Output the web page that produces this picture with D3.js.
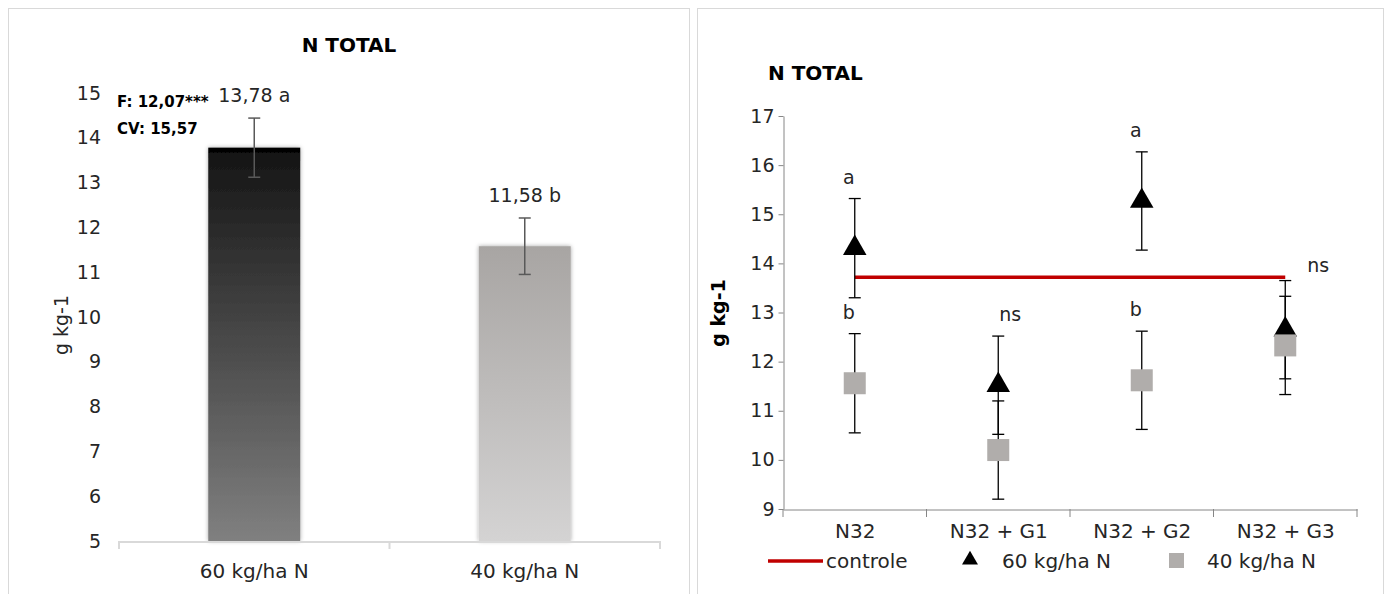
<!DOCTYPE html>
<html>
<head>
<meta charset="utf-8">
<script src="https://cdn.jsdelivr.net/npm/d3@7"></script>
<style>
  body { margin: 0; background: #fff; }
  svg { display: block; font-family: "DejaVu Sans", sans-serif; }
</style>
</head>
<body>
<script>
// ---- data: left panel (bars)
var barCategories = ["60 kg/ha N", "40 kg/ha N"];
var barValues = [13.78, 11.58];
var barErrors = [0.66, 0.63];
var barLetters = ["a", "b"];
var barTicks = [5, 6, 7, 8, 9, 10, 11, 12, 13, 14, 15];
var statLines = ["F: 12,07***", "CV: 15,57"];

// ---- data: right panel (points)
var treatments = ["N32", "N32 + G1", "N32 + G2", "N32 + G3"];
var controle = [13.72, 13.72, 13.72, 13.72];
var values60 = [14.31, 11.52, 15.27, 12.65];
var errors60 = [1.01, 1.0, 1.0, 1.0];
var letters60 = ["a", "ns", "a", "ns"];
var values40 = [11.56, 10.2, 11.62, 12.33];
var errors40 = [1.01, 1.0, 1.0, 1.0];
var letters40 = ["b", "", "b", ""];
var pointTicks = [9, 10, 11, 12, 13, 14, 15, 16, 17];
var legendLabels = ["controle", "60 kg/ha N", "40 kg/ha N"];

var W = 1386, H = 594;
var svg = d3.select("body").append("svg").attr("width", W).attr("height", H);

var defs = svg.append("defs");
function grad(id, stops) {
  var g = defs.append("linearGradient").attr("id", id)
    .attr("x1", 0).attr("y1", 0).attr("x2", 0).attr("y2", 1);
  stops.forEach(function(s) {
    g.append("stop").attr("offset", s[0]).attr("stop-color", s[1]);
  });
}
grad("g60", [[0, "#000"], [0.012, "#000"], [0.013, "#151515"], [1, "#808080"]]);
grad("g40", [[0, "#a8a5a3"], [1, "#d4d3d3"]]);
defs.append("filter").attr("id", "shadow")
  .attr("x", "-20%").attr("y", "-10%").attr("width", "140%").attr("height", "120%")
  .append("feDropShadow").attr("dx", 0).attr("dy", 0)
  .attr("stdDeviation", 2.2).attr("flood-color", "#000").attr("flood-opacity", 0.35);

// panel frames
svg.append("rect").attr("x", 8.5).attr("y", 8.5).attr("width", 681).attr("height", 600)
  .attr("fill", "none").attr("stroke", "#d9d9d9");
svg.append("rect").attr("x", 697.5).attr("y", 8.5).attr("width", 686).attr("height", 600)
  .attr("fill", "none").attr("stroke", "#d9d9d9");

// ================= LEFT: bar chart =================
var left = svg.append("g");
var yL = d3.scaleLinear().domain([5, 15]).range([541, 93]);
var xL = d3.scaleBand().domain(barCategories).range([119, 660])
  .paddingInner(0.66).paddingOuter(0.33);

left.append("text").attr("x", 349).attr("y", 52).attr("text-anchor", "middle")
  .attr("font-weight", "bold").attr("font-size", 20).text("N TOTAL");

// y tick labels (no axis line)
var yAxisL = d3.axisLeft(yL).tickValues(barTicks).tickSize(0).tickPadding(0);
var gyL = left.append("g").attr("transform", "translate(101,0)").call(yAxisL);
gyL.select(".domain").remove();
gyL.selectAll("text").attr("font-size", 19).attr("fill", "#262626")
  .attr("font-family", "DejaVu Sans, sans-serif");

left.append("text").attr("transform", "translate(68,325) rotate(-90)")
  .attr("text-anchor", "middle").attr("font-size", 19).attr("fill", "#262626").text("g kg-1");

// bars
left.selectAll("rect.bar").data(barValues).enter().append("rect")
  .attr("class", "bar")
  .attr("x", function(d, i) { return xL(barCategories[i]); })
  .attr("width", xL.bandwidth())
  .attr("y", function(d) { return yL(d); })
  .attr("height", function(d) { return yL(5) - yL(d); })
  .attr("fill", function(d, i) { return i === 0 ? "url(#g60)" : "url(#g40)"; })
  .attr("filter", "url(#shadow)");

// x axis line with ticks at band edges
var xAxisL = d3.axisBottom(xL).tickSize(0).tickSizeOuter(0).tickPadding(22);
var gxL = left.append("g").attr("transform", "translate(0,541.5)").call(xAxisL);
gxL.select(".domain").attr("stroke", "#d9d9d9").attr("stroke-width", 2);
gxL.selectAll("text").attr("font-size", 20).attr("fill", "#262626")
  .attr("font-family", "DejaVu Sans, sans-serif");
var edgesL = [xL.range()[0]].concat(barCategories.map(function(c) {
  return xL(c) + xL.bandwidth() + xL.step() * xL.paddingInner() / 2;
}));
edgesL[edgesL.length - 1] = xL.range()[1];
left.selectAll("line.xt").data(edgesL).enter().append("line")
  .attr("x1", function(d) { return d; }).attr("x2", function(d) { return d; })
  .attr("y1", 541).attr("y2", 549).attr("stroke", "#d9d9d9").attr("stroke-width", 2);

// error bars
var ebL = left.selectAll("g.eb").data(barValues).enter().append("g")
  .attr("stroke", "#595959").attr("stroke-width", 1.5);
ebL.each(function(d, i) {
  var cx = xL(barCategories[i]) + xL.bandwidth() / 2;
  var g = d3.select(this);
  g.append("line").attr("x1", cx).attr("x2", cx)
    .attr("y1", yL(d + barErrors[i])).attr("y2", yL(d - barErrors[i]));
  [d + barErrors[i], d - barErrors[i]].forEach(function(v) {
    g.append("line").attr("x1", cx - 6).attr("x2", cx + 6).attr("y1", yL(v)).attr("y2", yL(v));
  });
});

// value labels
left.selectAll("text.val").data(barValues).enter().append("text")
  .attr("x", function(d, i) { return xL(barCategories[i]) + xL.bandwidth() / 2; })
  .attr("y", function(d, i) { return yL(d + barErrors[i]) - 16; })
  .attr("text-anchor", "middle").attr("font-size", 19).attr("fill", "#262626")
  .text(function(d, i) { return d3.format(".2f")(d).replace(".", ",") + " " + barLetters[i]; });

left.selectAll("text.stat").data(statLines).enter().append("text")
  .attr("x", 117).attr("y", function(d, i) { return 107 + i * 27; })
  .attr("font-size", 15).attr("font-weight", "bold").text(function(d) { return d; });

// ================= RIGHT: points chart =================
var right = svg.append("g");
var yR = d3.scaleLinear().domain([9, 17]).range([509, 116]);
var xR = d3.scalePoint().domain(treatments).range([783, 1357]).padding(0.5);

right.append("text").attr("x", 768).attr("y", 80)
  .attr("font-weight", "bold").attr("font-size", 20).text("N TOTAL");

var yAxisR = d3.axisLeft(yR).tickValues(pointTicks).tickSize(5).tickPadding(4).tickSizeOuter(0);
var gyR = right.append("g").attr("transform", "translate(783.5,0)").call(yAxisR);
gyR.select(".domain").attr("stroke", "#868686");
gyR.selectAll(".tick line").attr("stroke", "#868686");
gyR.selectAll("text").attr("font-size", 19).attr("fill", "#262626")
  .attr("font-family", "DejaVu Sans, sans-serif");

right.append("text").attr("transform", "translate(725,313) rotate(-90)")
  .attr("text-anchor", "middle").attr("font-size", 19).attr("font-weight", "bold").text("g kg-1");

var xAxisR = d3.axisBottom(xR).tickSize(0).tickPadding(14);
var gxR = right.append("g").attr("transform", "translate(0,509.5)").call(xAxisR);
gxR.select(".domain").attr("stroke", "#868686");
gxR.selectAll("text").attr("font-size", 20).attr("fill", "#262626")
  .attr("font-family", "DejaVu Sans, sans-serif");
var stepR = xR.step();
var edgesR = [xR(treatments[0]) - stepR / 2].concat(treatments.map(function(t) { return xR(t) + stepR / 2; }));
right.selectAll("line.xt").data(edgesR).enter().append("line")
  .attr("x1", function(d) { return d; }).attr("x2", function(d) { return d; })
  .attr("y1", 509).attr("y2", 517).attr("stroke", "#868686");

// controle line
right.append("path").datum(controle)
  .attr("d", d3.line().x(function(d, i) { return xR(treatments[i]); }).y(function(d) { return yR(d); }))
  .attr("fill", "none").attr("stroke", "#c00000").attr("stroke-width", 3.5);

function errorBars(vals, errs) {
  var g = right.append("g").attr("stroke", "#000").attr("stroke-width", 1.3);
  vals.forEach(function(v, i) {
    var cx = xR(treatments[i]);
    g.append("line").attr("x1", cx).attr("x2", cx).attr("y1", yR(v + errs[i])).attr("y2", yR(v - errs[i]));
    [v + errs[i], v - errs[i]].forEach(function(e) {
      g.append("line").attr("x1", cx - 6).attr("x2", cx + 6).attr("y1", yR(e)).attr("y2", yR(e));
    });
  });
}

var tri = d3.symbol().type(d3.symbolTriangle).size(240);
errorBars(values60, errors60);
right.selectAll("path.t60").data(values60).enter().append("path")
  .attr("d", tri)
  .attr("transform", function(d, i) { return "translate(" + xR(treatments[i]) + "," + yR(d) + ")"; })
  .attr("fill", "#000");

errorBars(values40, errors40);
right.selectAll("rect.s40").data(values40).enter().append("rect")
  .attr("x", function(d, i) { return xR(treatments[i]) - 11; })
  .attr("y", function(d) { return yR(d) - 11; })
  .attr("width", 22).attr("height", 22).attr("fill", "#b0adab");

// significance letters ("ns" sits a little to the right, last one beside the line end)
function letters(vals, errs, labs) {
  right.selectAll(null).data(labs).enter().append("text")
    .attr("x", function(d, i) {
      var dx = d === "ns" ? (i === labs.length - 1 ? 33 : 12) : -6;
      return xR(treatments[i]) + dx;
    })
    .attr("y", function(d, i) { return yR(vals[i] + errs[i]) - (i === labs.length - 1 ? 9 : 15); })
    .attr("text-anchor", "middle").attr("font-size", 19).attr("fill", "#262626")
    .text(function(d) { return d; });
}
letters(values60, errors60, letters60);
letters(values40, errors40, letters40);

// legend
var lg = right.append("g").attr("transform", "translate(0,561)");
lg.append("line").attr("x1", 768).attr("x2", 823).attr("y1", 0).attr("y2", 0)
  .attr("stroke", "#c00000").attr("stroke-width", 3.5);
lg.append("path").attr("d", d3.symbol().type(d3.symbolTriangle).size(110))
  .attr("transform", "translate(970,-1)").attr("fill", "#000");
lg.append("rect").attr("x", 1169).attr("y", -8).attr("width", 15).attr("height", 15).attr("fill", "#b0adab");
var legX = [826, 1002, 1207];
lg.selectAll("text").data(legendLabels).enter().append("text")
  .attr("x", function(d, i) { return legX[i]; }).attr("y", 7)
  .attr("font-size", 20).attr("fill", "#262626").text(function(d) { return d; });
</script>
</body>
</html>
